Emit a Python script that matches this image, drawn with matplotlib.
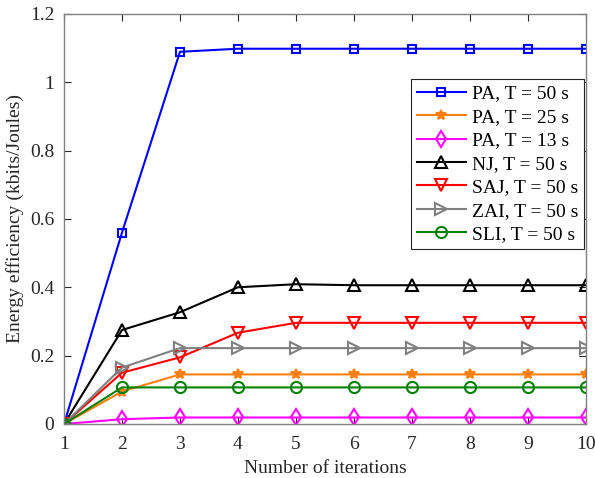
import matplotlib
import matplotlib.pyplot as plt

iterations = [1, 2, 3, 4, 5, 6, 7, 8, 9, 10]
pa_50 = [0, 0.56, 1.089, 1.098, 1.098, 1.098, 1.098, 1.098, 1.098, 1.098]
pa_25 = [0, 0.095, 0.145, 0.145, 0.145, 0.145, 0.145, 0.145, 0.145, 0.145]
pa_13 = [0, 0.014, 0.019, 0.019, 0.019, 0.019, 0.019, 0.019, 0.019, 0.019]
nj_50 = [0, 0.275, 0.327, 0.400, 0.409, 0.406, 0.406, 0.406, 0.406, 0.406]
saj_50 = [0, 0.150, 0.195, 0.267, 0.296, 0.296, 0.296, 0.296, 0.296, 0.296]
zai_50 = [0, 0.165, 0.222, 0.222, 0.222, 0.222, 0.222, 0.222, 0.222, 0.222]
sli_50 = [0, 0.107, 0.107, 0.107, 0.107, 0.107, 0.107, 0.107, 0.107, 0.107]

labels = ['PA, T = 50 s', 'PA, T = 25 s', 'PA, T = 13 s', 'NJ, T = 50 s',
          'SAJ, T = 50 s', 'ZAI, T = 50 s', 'SLI, T = 50 s']

if __name__ == '__main__':
    matplotlib.rc('font', family='Liberation Serif', size=14)

    fig = plt.figure(figsize=(5.95, 4.78), dpi=100)
    ax = fig.add_axes([0.1076, 0.113, 0.877, 0.858])

    series = [pa_50, pa_25, pa_13, nj_50, saj_50, zai_50, sli_50]
    colors = ['#0000ff', '#ff7f0e', '#ff00ff', '#000000', '#ff0000', '#808080', '#008000']
    markers = ['s', '*', 'd', '^', 'v', '>', 'o']
    sizes = [6, 7, 8, 9, 9, 9, 8]
    for ys, c, m, ms, lab in zip(series, colors, markers, sizes, labels):
        filled = c if m == '*' else 'none'
        ax.plot(iterations, ys, color=c, marker=m, markersize=ms, markerfacecolor=filled,
                markeredgewidth=1.5, linewidth=1.5, label=lab)

    ax.set_xlim(1, 10)
    ax.set_ylim(0, 1.2)
    ax.set_xticks(iterations)
    ax.set_yticks([0, 0.2, 0.4, 0.6, 0.8, 1.0, 1.2])
    ax.set_yticklabels(['0', '0.2', '0.4', '0.6', '0.8', '1', '1.2'])
    ax.tick_params(direction='in', top=True, right=True, colors='#262626', length=5, labelsize=14)
    ax.tick_params(axis='x', pad=9)
    ax.tick_params(axis='y', pad=7)
    for s in ax.spines.values():
        s.set_color('#808080')
        s.set_linewidth(1.0)
    ax.set_xlabel('Number of iterations', fontsize=14, labelpad=5, color='#262626')
    ax.set_ylabel('Energy efficiency (kbits/Joules)', fontsize=14, labelpad=4, color='#262626')

    leg = ax.legend(loc='upper right', bbox_to_anchor=(0.996, 0.841), fontsize=14,
                    fancybox=False, edgecolor='#262626', framealpha=1,
                    handlelength=2.5, borderpad=0.3, labelspacing=0.3, handletextpad=0.3,
                    borderaxespad=0)
    leg.get_frame().set_linewidth(0.8)
    for t in leg.get_texts():
        t.set_color('#000000')

    fig.savefig('out.png', dpi=100)
